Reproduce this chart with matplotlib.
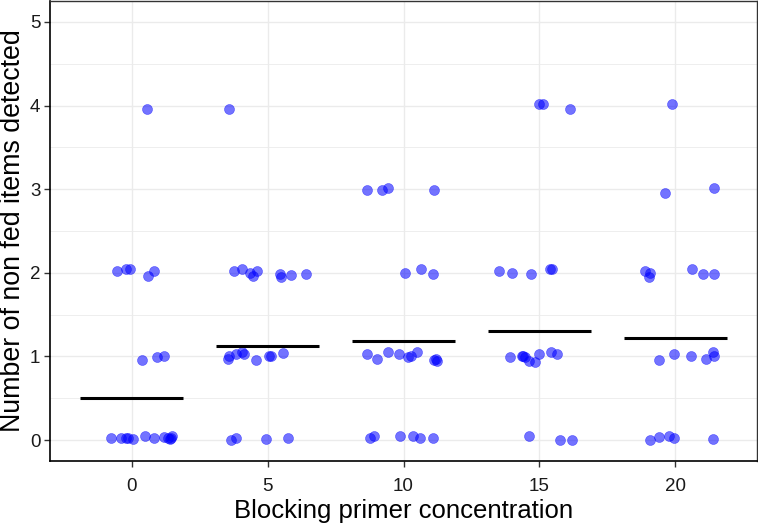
import matplotlib
matplotlib.use("Agg")
import matplotlib.pyplot as plt
import numpy as np

plt.rcParams["font.family"] = ["Liberation Sans", "DejaVu Sans"]

# jittered points (x, y)
conc_0_x = [0.56, -0.54, -0.2, -0.07, 0.6, 0.82, 0.39, 0.94, 1.21,
            -0.77, -0.4, -0.22, -0.13, 0.05, 0.5, 0.81, 1.21, 1.33, 1.46, 1.5, 1.4]
conc_0_y = [3.96, 2.02, 2.04, 2.04, 1.96, 2.02, 0.96, 0.99, 1.01,
            0.02, 0.03, 0.02, 0.03, 0.01, 0.05, 0.03, 0.04, 0.02, 0.02, 0.05, 0.01]

conc_5_x = [3.57, 3.76, 4.07, 4.36, 4.46, 4.61, 5.44, 5.5, 5.85, 6.42,
            3.54, 3.6, 3.85, 4.07, 4.15, 4.58, 5.05, 5.14, 5.56,
            3.66, 3.85, 4.95, 5.75]
conc_5_y = [3.96, 2.02, 2.04, 2.0, 1.96, 2.02, 1.99, 1.95, 1.97, 1.98,
            0.97, 1.01, 1.03, 1.05, 1.03, 0.96, 1.01, 1.01, 1.04,
            0.0, 0.03, 0.01, 0.02]

conc_10_x = [8.67, 9.21, 9.43, 11.14, 10.06, 10.63, 11.08,
             8.67, 9.02, 9.43, 9.82, 10.16, 10.28, 10.49, 11.14, 11.24, 11.2,
             8.75, 8.93, 9.88, 10.34, 10.59, 11.08]
conc_10_y = [2.99, 2.99, 3.02, 2.99, 2.0, 2.04, 1.98,
             1.03, 0.97, 1.05, 1.03, 0.99, 1.0, 1.05, 0.96, 0.95, 0.97,
             0.03, 0.05, 0.05, 0.05, 0.02, 0.02]

conc_15_x = [15.0, 15.12, 16.14, 13.5, 13.99, 14.69, 15.39, 15.47,
             13.9, 14.36, 14.45, 14.61, 14.82, 15.0, 15.43, 15.65, 14.4,
             14.61, 15.74, 16.2]
conc_15_y = [4.02, 4.02, 3.96, 2.02, 2.0, 1.98, 2.04, 2.04,
             0.99, 1.01, 0.99, 0.95, 0.93, 1.03, 1.05, 1.03, 1.01,
             0.05, 0.0, 0.0]

conc_20_x = [19.86, 19.63, 21.43, 18.88, 19.07, 19.02, 20.61, 21.03, 21.43,
             19.41, 19.94, 20.58, 21.13, 21.4, 21.43,
             19.07, 19.38, 19.78, 19.94, 21.37]
conc_20_y = [4.02, 2.95, 3.01, 2.02, 2.0, 1.95, 2.04, 1.98, 1.98,
             0.96, 1.03, 1.01, 0.97, 1.05, 1.0,
             0.0, 0.04, 0.05, 0.03, 0.01]

concentrations = [0, 5, 10, 15, 20]
group_means = [0.5, 1.12, 1.19, 1.30, 1.225]

all_x = conc_0_x + conc_5_x + conc_10_x + conc_15_x + conc_20_x
all_y = conc_0_y + conc_5_y + conc_10_y + conc_15_y + conc_20_y

fig = plt.figure(figsize=(7.58, 5.25), dpi=100)
ax = fig.add_axes([50 / 758, 1 - 461 / 525, 707 / 758, 460 / 525])

ax.set_xlim(-3.0, 23.0)
ax.set_ylim(-0.25, 5.25)

ax.set_yticks([0, 1, 2, 3, 4, 5])
ax.set_yticks([0.5, 1.5, 2.5, 3.5, 4.5], minor=True)
ax.set_xticks(concentrations)
ax.grid(True, which="major", color="#EBEBEB", linewidth=1.0)
ax.grid(True, which="minor", axis="y", color="#EBEBEB", linewidth=0.6)
ax.set_axisbelow(True)
ax.tick_params(which="minor", length=0)

ax.scatter(all_x, all_y, s=52, color="#0000FF", alpha=0.55,
           edgecolors="#0000FF", linewidths=0.4, zorder=3)

for c, m in zip(concentrations, group_means):
    ax.plot([c - 1.9, c + 1.9], [m, m], color="black", linewidth=2.2, zorder=4,
            solid_capstyle="butt")

for side in ["top", "right"]:
    ax.spines[side].set_color("#333333")
    ax.spines[side].set_linewidth(1.0)
for side in ["left", "bottom"]:
    ax.spines[side].set_color("black")
    ax.spines[side].set_linewidth(1.2)

ax.tick_params(axis="both", which="major", length=4, width=1, color="#333333",
               labelsize=13.5, labelcolor="#1a1a1a", pad=3)
ax.tick_params(axis="x", which="major", pad=8)

ax.set_xlabel("Blocking primer concentration", fontsize=18.5, labelpad=3)
ax.set_ylabel("Number of non fed items detected", fontsize=19.3, labelpad=3)

fig.savefig("out.png", dpi=100)
